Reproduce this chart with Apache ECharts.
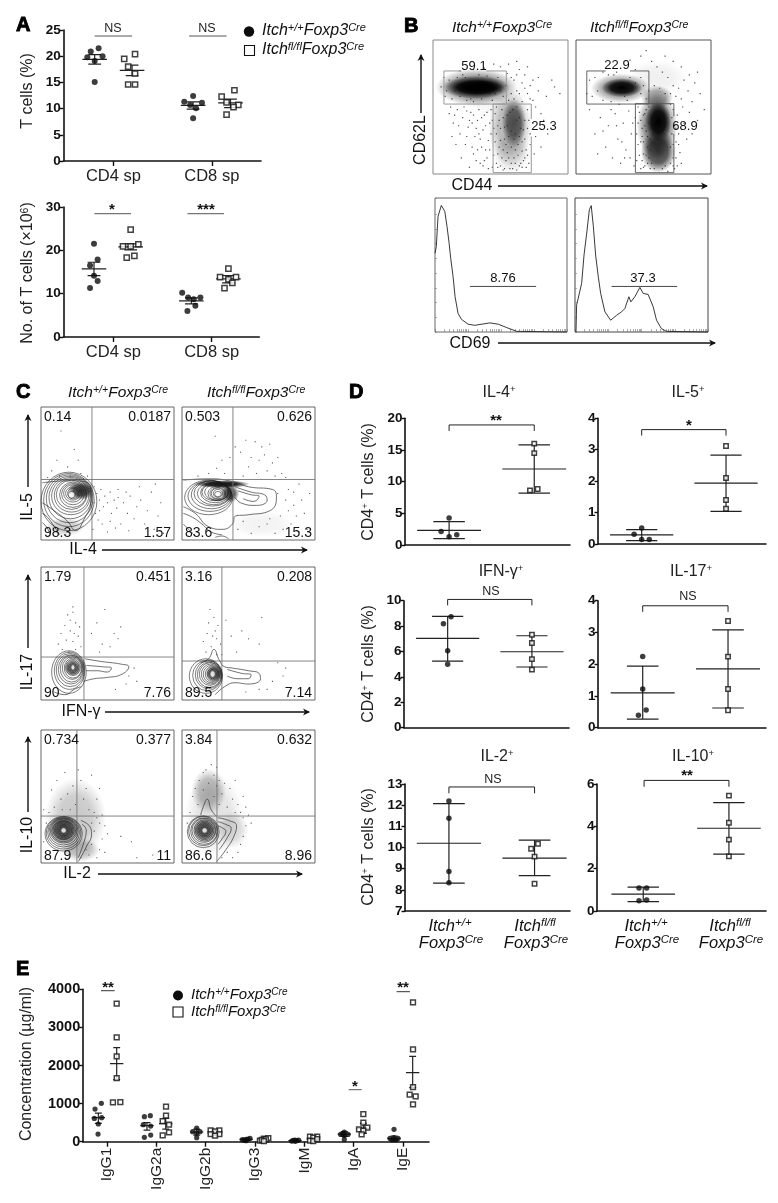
<!DOCTYPE html>
<html><head><meta charset="utf-8">
<style>html,body{margin:0;padding:0;background:#fff}#c{width:778px;height:1203px}</style>
<script src="https://cdn.jsdelivr.net/npm/echarts@6/dist/echarts.min.js"></script></head>
<body><div id="c"></div>
<script>
// ---------- Panel A values: [x, value]; stats: [centre, mean, upper, lower]
const aTopWt=[[.77,20.9],[.85,21.5],[.735,19.8],[.89,20],[.81,19.1],[.81,15.1],[1.81,12.4],[1.72,11.3],[1.9,11.1],[1.78,10.7],[1.84,10.05],[1.81,8.15]];
const aTopKo=[[1.11,19.5],[1.22,20.4],[1.15,18],[1.22,16.7],[1.15,14.6],[1.22,14.6],[2.23,13.5],[2.1,12.3],[2.15,11.2],[2.27,10.7],[2.22,10.3],[2.15,8.85]];
const aTopStats=[[.81,19.4,20.3,18.5],[1.19,17.3,18.3,16.3],[1.81,10.6,11.3,9.9],[2.19,11.1,11.8,10.2]];
const aBotWt=[[.803,21.5],[.84,17.9],[.763,16.5],[.803,14.15],[.84,12.9],[.763,11.3],[1.7,10.2],[1.76,9.1],[1.885,9.1],[1.817,8.7],[1.834,7.2],[1.753,6]];
const aBotKo=[[1.176,24.8],[1.254,21.4],[1.176,20.9],[1.098,20.9],[1.136,18.3],[1.214,18.7],[2.17,15.8],[2.085,13.8],[2.247,13.8],[2.17,13.3],[2.21,12.5],[2.13,11.3]];
const aBotStats=[[.803,15.7,17.25,14.15],[1.176,20.8,21.5,20.1],[1.793,8.35,9.05,7.65],[2.17,13.4,14.15,12.5]];
const aCats=['CD4 sp','CD8 sp'];
// ---------- Panel D values
const dIl4={wt:[[1,4.26],[.906,2.15],[1.09,1.6],[1,1.3]],ko:[[2,16],[2,14.5],[1.95,8.63],[2.04,8.84]],wtS:[1,2.3,3.7,1],koS:[2,12,15.8,8.2],br:[18.95,18]};
const dIl5={wt:[[1,.51],[.91,.31],[1,.14],[1.09,.14]],ko:[[2,3.12],[2,2.1],[2,1.4],[2,1.12]],wtS:[1,.29,.46,.11],koS:[2,1.94,2.83,1.04],br:[3.64,3.45]};
const dIfn={wt:[[1.04,8.74],[.95,8.19],[1,6.06],[1,5]],ko:[[2,7.32],[2,6.67],[2,5.4],[2,4.57]],wtS:[1,7.03,8.77,5.25],koS:[2,5.98,7.24,4.78],br:[10.1,9.63]};
const dIl17={wt:[[1,2.24],[1,1.22],[1.04,.56],[.95,.39]],ko:[[2,3.36],[2,2.24],[2,1.22],[2,.55]],wtS:[1,1.1,1.94,.27],koS:[2,1.85,3.08,.62],br:[3.84,3.65]};
const dIl2={wt:[[1,12.2],[1,11.38],[1,8.87],[1,8.34]],ko:[[2.04,10.18],[1.96,9.94],[2,9.57],[2,8.29]],wtS:[1,10.2,12.07,8.32],koS:[2,9.5,10.35,8.67],br:[12.86,12.56]};
const dIl10={wt:[[.94,1.09],[1.03,1.09],[.94,.49],[1.03,.52]],ko:[[2,5.45],[2,4.17],[2,3.37],[2,2.58]],wtS:[.99,.8,1.13,.44],koS:[2,3.91,5.12,2.69],br:[6.17,5.87]};
// ---------- Panel E values
const eCats=['IgG1','IgG2a','IgG2b','IgG3','IgM','IgA','IgE'];
const eWt=[[.885,1006],[.757,857],[.743,612],[.892,630],[.824,464],[.818,201],[1.757,656],[1.878,682],[1.736,446],[1.885,411],[1.885,175],[1.757,114],[2.818,359],[2.736,262],[2.885,262],[2.818,227],[2.818,105],[3.743,52],[3.818,26],[3.899,87],[3.818,61],[3.777,44],[3.858,70],[4.743,17],[4.777,35],[4.811,9],[4.845,26],[4.885,44],[4.811,44],[5.81,254],[5.736,192],[5.885,192],[5.81,166],[5.777,201],[5.81,61],[6.818,324],[6.736,87],[6.818,105],[6.899,87],[6.777,44],[6.858,44]];
const eKo=[[1.196,3622],[1.196,2739],[1.196,2240],[1.196,1671],[1.12,1032],[1.27,1041],[2.196,919],[2.196,682],[2.128,542],[2.257,446],[2.257,245],[2.128,166],[3.1,297],[3.277,297],[3.189,271],[3.1,201],[3.277,201],[3.189,157],[4.1,26],[4.18,79],[4.27,96],[4.14,44],[4.22,61],[4.18,17],[5.115,131],[5.26,131],[5.18,105],[5.115,26],[5.18,17],[5.26,70],[6.196,726],[6.196,499],[6.108,324],[6.277,367],[6.196,289],[6.162,192],[7.203,3657],[7.203,2424],[7.203,1435],[7.135,1234],[7.257,1190],[7.203,980]];
const eStats=[[.824,630,752,481],[1.196,2048,2467,1627],[1.81,420,499,306],[2.19,472,612,332],[2.818,254,332,175],[3.189,245,306,175],[3.82,60,75,45],[4.18,60,78,42],[4.81,30,38,20],[5.18,75,105,45],[5.81,201,262,140],[6.196,350,481,219],[6.818,87,149,26],[7.196,1811,2240,1417]];
// ---------- Panel B histograms (percent of plot)
const hist1=[[0,58.8],[1,63.8],[2.3,86.3],[4.8,94.5],[7.4,90],[9.1,78.8],[10.7,66.3],[11.9,55],[13,56.3],[13.7,41.3],[15.2,26.3],[17.5,13.8],[20,9.5],[25.1,5.8],[30.1,5],[41.6,6.8],[48,5.8],[54.3,3.3],[61.9,.5],[100,0]];
const hist2=[[.75,0],[1.2,20],[2.5,19.3],[5,36.3],[6.8,57.5],[8.8,73.8],[10.8,91.3],[12.2,94.3],[13.8,78.8],[15.5,57.5],[17.5,41.3],[19.3,28.8],[22.5,15],[26.8,8.8],[31.3,12.5],[35,15],[37.5,17.5],[40.5,26.3],[42,22.5],[45,26.3],[48.8,33.3],[51.3,28.8],[55,28],[58.8,18.8],[61.3,8.8],[65,2.5],[68.8,.5],[100,0]];
const histXTicks=[0,7,11,14,16.5,18.5,20,21.5,23,24,25,32,36,39,41.5,43.5,45,46.5,48,49,50,57,61,64,66.5,68.5,70,71.5,73,74,75,82,86,89,91.5,93.5,95,96.5,98,99,100];
const histYTicks=[0,11,22,33,44,55,66,77,88,100];
// ---------- Panel B dot plots: density clouds [x,y,w,h,alpha], events, gates
const bClouds1=[[45,60,50,36,.05],[58,16,28,30,.14],[57,35,32,56,.3],[60,38,18,36,.6],[32,64.7,60,28,.5],[32,64.7,50,17,1],[34,64.7,38,11,1]];
const bClouds2=[[60,72,44,26,.06],[60,57,24,18,.4],[60,36,30,50,.6],[61,17,26,32,.75],[61,39,19,30,1],[33,64,44,22,.45],[34,64.4,30,14,1]];
const bDots1=[[12,45],[15,38],[18,48],[20,30],[22,42],[24,22],[26,35],[28,46],[30,15],[31,28],[33,40],[35,8],[36,20],[37,33],[38,44],[40,12],[41,25],[42,38],[43,48],[44,5],[17,22],[21,12],[27,5],[34,30],[39,18],[14,28],[25,47],[29,38],[32,10],[37,6],[46,45],[47,30],[48,15],[49,40],[50,25],[50,6],[51,48],[52,18],[53,35],[54,10],[55,44],[56,28],[57,4],[58,20],[59,48],[60,12],[61,30],[62,3],[63,22],[64,42],[65,8],[66,17],[67,33],[68,26],[69,5],[70,14],[71,40],[72,30],[47,8],[52,3],[55,16],[61,18],[64,28],[58,8],[66,5],[48,36],[53,26],[68,12],[55,75],[60,70],[62,62],[64,78],[66,68],[68,74],[70,60],[72,66],[58,60],[74,55],[76,50],[78,62],[80,45],[82,40],[84,58],[90,65],[94,60],[88,70],[74,70],[78,72],[70,80],[62,84],[56,82],[50,80],[45,82],[38,79],[30,78],[20,77],[74,38],[76,28],[80,20],[75,15],[85,30],[10,62],[12,70],[9,58],[14,56],[18,72],[22,74],[25,55],[30,54],[36,56],[40,73],[44,55],[48,72],[52,58],[54,66],[56,55],[6,65],[8,72],
 [13,50],[16,44],[19,36],[23,50],[25,28],[27,40],[29,20],[30,44],[32,34],[33,18],[34,48],[35,26],[36,42],[38,10],[39,36],[40,46],[41,4],[42,18],[43,30],[44,40],[45,14],[45,34],[46,24],[47,50],[48,5],[49,20],[50,34],[51,12],[52,42],[53,4],[54,22],[55,36],[56,12],[57,46],[58,32],[59,4],[60,26],[61,8],[62,40],[63,14],[64,6],[65,34],[66,24],[67,10],[68,40],[69,18],[70,34],[71,8],[72,22],[62,50],[66,54],[70,48],[60,56],[64,60],[68,64],[72,56],[58,72],[62,74],[50,62],[46,60],[16,62],[20,58],[24,72],[28,56],[34,74],[42,60]];
const bDots2=[[10,48],[14,30],[18,42],[22,20],[24,36],[27,12],[29,45],[31,26],[33,8],[35,38],[37,18],[39,47],[41,30],[43,6],[44,42],[16,15],[26,48],[34,24],[40,12],[46,22],[20,55],[26,54],[32,52],[38,55],[8,60],[10,70],[14,72],[20,76],[28,74],[40,72],[44,68],[48,60],[50,66],[52,56],[46,50],[48,40],[49,28],[50,15],[50,5],[51,45],[52,32],[53,20],[53,8],[54,50],[55,26],[72,48],[73,36],[74,24],[72,12],[73,4],[75,44],[76,30],[77,16],[78,8],[80,38],[82,26],[79,50],[84,46],[86,30],[70,60],[72,66],[74,58],[76,64],[78,56],[80,70],[83,62],[86,54],[88,68],[90,76],[68,72],[64,76],[60,80],[56,84],[48,88],[52,92],[40,85],[44,78],[72,84],[78,80],[66,88],[84,74],[92,60],[95,48],[90,40],
 [45,10],[45,30],[46,38],[47,14],[47,46],[48,4],[48,24],[49,34],[49,10],[50,44],[50,24],[51,36],[51,6],[52,14],[52,48],[53,28],[54,12],[54,38],[55,4],[55,18],[56,44],[56,8],[57,30],[58,4],[58,48],[64,4],[66,6],[68,2],[70,8],[70,20],[71,30],[71,42],[72,6],[72,22],[74,12],[74,34],[75,6],[76,22],[70,52],[66,60],[62,64],[58,66],[54,62],[48,72],[42,62],[36,58],[30,76],[24,74],[16,62],[12,58],[36,12],[30,36],[20,32],[42,38]];
const bGates1=[[21,76.9],[8.1,76.9],[8.1,52.2],[54.3,52.2],[54.3,76.9],[39.5,76.9],[NaN,NaN],[44.5,52.2],[44.5,1],[72.8,1],[72.8,28],[NaN,NaN],[72.8,41],[72.8,52.2],[44.5,52.2]];
const bGates2=[[22,76.9],[8,76.9],[8,52.2],[54,52.2],[54,76.9],[40,76.9],[NaN,NaN],[44,52.5],[44,1],[72.5,1],[72.5,30],[NaN,NaN],[72.5,43],[72.5,52.5],[44,52.5]];
const histGate1=[[26.6,34],[76.6,34]];
const histGate2=[[27.5,34],[76.8,34]];
// ---------- Panel C: quadrants [x,y], clouds, events, contour rings [x,y,w,h], contour paths
const c1Quad=[38.3,45.5],c2Quad=[38.3,45.5],c3Quad=[32.3,32.3],c4Quad=[30,29.3],c5Quad=[27,35.3],c6Quad=[26.3,35.3];
const c1Clouds=[[18,10,30,14,.2],[30,37,20,14,.8]];
const c2Clouds=[[60,12,50,20,.05],[30,42,42,6,.95],[36,35,14,14,.7]];
const c3Clouds=[[24,24,13,13,.55]];
const c4Clouds=[[24,20,13,13,.65]];
const c5Clouds=[[26,34,46,60,.22],[30,10,28,18,.25],[17,25,22,22,.6]];
const c6Clouds=[[24,36,44,62,.12],[20,54,26,34,.28],[38,25,24,28,.14],[17,25,18,18,.6]];
const c1Dots=[[40,40],[42,35],[44,30],[45,38],[47,25],[48,33],[50,28],[52,36],[53,20],[55,30],[57,24],[58,38],[60,12],[62,28],[65,20],[67,33],[70,16],[72,25],[75,30],[78,12],[80,22],[83,36],[85,8],[88,18],[90,28],[92,5],[46,12],[50,6],[56,9],[66,7],[41,20],[43,15],[15,82],[25,68],[12,60],[20,55],[28,60],[30,50],[14,48],[8,52],[22,48],[5,47],[35,48],[32,46],[39,8],[40,28],[44,22],[52,14],[58,32],[64,36],[74,40],[86,42]];
const c2Dots=[[55,74],[60,70],[52,62],[58,60],[62,64],[66,72],[68,58],[72,62],[75,50],[64,52],[56,50],[50,55],[46,48],[70,48],[78,47],[40,70],[36,62],[30,60],[26,54],[20,50],[32,50],[12,48],[44,66],[48,75],[25,78],[72,35],[78,30],[80,38],[84,36],[88,42],[90,30],[92,20],[86,18],[82,12],[76,8],[70,5],[64,12],[96,35],[94,8],[88,6],[74,18],[80,22],[58,10],[52,5],[46,14],[42,8],[66,16],[84,26]];
const c3Dots=[[20,64],[22,60],[24,66],[26,58],[18,56],[22,52],[25,50],[15,50],[19,45],[24,44],[28,48],[30,40],[16,38],[21,36],[26,38],[13,42],[29,55],[48,68],[42,58],[55,50],[58,46],[46,42],[52,40],[44,36],[60,55],[38,50],[66,18],[70,24],[64,12],[56,8],[72,14],[24,70]];
const c4Dots=[[21,68],[24,62],[20,58],[27,56],[19,50],[23,48],[26,46],[29,42],[16,44],[22,40],[18,36],[25,52],[33,60],[37,48],[45,52],[50,46],[58,42],[41,36],[60,62],[30,34],[64,8],[72,28],[76,18],[68,14],[58,8],[48,6],[78,24],[26,34]];
const c5Dots=[[8,55],[12,62],[15,48],[18,68],[20,52],[24,58],[26,44],[10,42],[6,38],[30,62],[34,56],[38,66],[42,48],[36,40],[40,38],[32,48],[28,70],[22,40],[16,40],[44,56],[46,36],[48,28],[46,18],[44,10],[48,8],[42,4],[38,14],[36,6],[40,24],[44,30],[50,22],[2,40],[4,30],[2,16],[30,4],[34,10],[42,34],[38,30],[60,20],[68,16],[72,4],[84,6]];
const c6Dots=[[8,50],[10,56],[13,62],[16,68],[18,70],[20,60],[24,66],[26,58],[28,62],[12,44],[6,38],[4,30],[24,50],[30,52],[32,60],[36,56],[38,48],[40,62],[42,44],[46,50],[44,38],[34,42],[46,34],[48,28],[46,20],[44,14],[42,8],[38,4],[30,4],[34,8],[50,36],[52,30],[26,72],[22,74],[48,42],[16,55],[28,44],[40,38]];
const c1Rings=[[21,29,42,44],[21,30,38,40],[21.5,31,35,36],[22,32,32,32],[22.5,33,29,28],[23,33.5,26,25],[23,34,23,22],[24,34,20,19],[24,34.5,17,16],[24,35,14,13],[24,35,11,10],[24,35,8,8],[23,34,5,5]];
const c2Rings=[[20,32,36,26],[21,33,33,23],[22,34,30,21],[23,35,28,19],[24,35,25,17],[25,35.5,22,15],[25,36,20,13],[26,36,18,12],[27,35,15,11],[27,35,12,9],[27,35,10,8],[27,35,7,6],[27,34.5,5,4]];
const c3Rings=[[21,21,26,32],[21.5,22,23,28],[22,22.5,21,25],[22.5,23,19,22],[23,23.5,17,20],[23.5,24,15,17],[24,24,13,15],[24,24.5,11,12],[24,24.5,9,10],[24,24.5,7,8],[24,24.5,5,6],[24,24.5,3,4]];
const c4Rings=[[18,18,25,26],[19,18.5,22,23],[20,19,20,21],[20.5,19,18,19],[21,19.5,16,17],[21.5,19.5,14,15],[22,19.5,12,13],[22.5,19.5,10,11],[23,19.5,8,9],[23,19.5,6,7],[23,19.5,4,5]];
const c5Rings=[[17,22,28,26],[17,22.5,26,24],[17,23,24,22],[17,23.5,22,20],[17,24,20,18],[17,24,18,16],[17,24.5,16,14],[17,24.5,14,13],[17,24.5,12,11],[17,24.5,10,9],[17,24.5,8,8],[17,24.5,6,6],[17,24.5,4,4]];
const c6Rings=[[16,23.5,24,24],[16,24,22,22],[16.5,24,20,20],[16.5,24.5,18,18],[17,24.5,16,16],[17,24.5,14,14],[17,24.5,12,12],[17,24.5,10,10],[17,24.5,8,8],[17,24.5,6,6],[17,24.5,4,4]];
const c1Paths=[[[1,43],[20,44.5],[37,41],[37.5,30],[32,15],[26,7],[20,14],[10,22],[1,28]],[[1,20],[5,17],[10,10],[14,4]],[[1,13],[4,10],[7,4]]];
const c2Paths=[[[1,45],[20,46],[38,44],[50,40],[68,38],[71,32],[66,22],[50,19],[40,18],[38,12],[30,8],[20,10],[10,20],[1,25]],[[40,40],[52,36],[62,34],[64,30],[56,26],[44,28],[40,32]],[[42,37],[52,34],[58,33],[54,29],[46,31]],[[1,20],[8,17],[15,12],[22,6],[30,4]],[[1,12],[5,8],[10,3]],[[25,2],[30,3],[35,1]]];
const c3Paths=[[[33,31],[45,29],[60,27],[66,25],[60,19],[50,17],[40,16],[32,14]],[[34,26],[46,25],[53,24],[50,21],[42,22],[34,22]],[[10,6],[18,4],[25,8],[30,10]]];
const c4Paths=[[[14,28],[20,31],[24,38],[28,30],[32,25],[38,24],[50,22],[58,20],[59,16],[50,12],[40,13],[32,10],[25,4]],[[34,23],[45,20],[52,19],[50,16],[42,16],[34,18]]];
const c5Paths=[[[30,32],[37,27],[38,22],[34,12],[28,1]],[[31,29],[34,25],[33,18],[28,4]]];
const c6Paths=[[[14,36],[17,45],[19,48],[22,40],[26,35]],[[27,34],[35,32],[41,28],[39,20],[33,10],[26,1]],[[27,31],[33,29],[37,26],[34,19],[28,10]],[[27,28],[31,26],[33,24],[30,18],[27,14]]];
const c1Labels=['0.14','0.0187','98.3','1.57'],c2Labels=['0.503','0.626','83.6','15.3'],c3Labels=['1.79','0.451','90','7.76'],c4Labels=['3.16','0.208','89.5','7.14'],c5Labels=['0.734','0.377','87.9','11'],c6Labels=['3.84','0.632','86.6','8.96'];

// ---------- builders
const FF='"Liberation Sans",Arial,sans-serif';
const grids=[],xAxes=[],yAxes=[],series=[],G=[];
function addGrid(L,T,R,B,x,y,g){const i=grids.length;
 grids.push(Object.assign({left:L,top:T,width:R-L,height:B-T,containLabel:false},g||{}));
 xAxes.push(Object.assign({gridIndex:i,type:'value',splitLine:{show:false}},x));
 yAxes.push(Object.assign({gridIndex:i,type:'value',splitLine:{show:false}},y));return i;}
const AL={show:true,onZero:false,lineStyle:{color:'#111',width:1.6}};
function numY(min,max,step,fs){return {min,max,interval:step,axisLine:AL,axisTick:{show:true,length:3.5,lineStyle:{color:'#111',width:1.4}},axisLabel:{margin:2.5,fontFamily:FF,fontWeight:'bold',fontSize:fs,color:'#111',formatter:v=>String(v)}};}
function catX(min,max,cats,fs,rot){const vals=cats.map((c,i)=>i+1);return {min,max,axisLine:AL,axisTick:{show:true,length:5,customValues:vals,lineStyle:{color:'#111',width:1.4}},axisLabel:{customValues:vals,rotate:rot||0,margin:rot?6:7,fontFamily:FF,fontSize:fs,color:'#222',formatter:v=>cats[Math.round(v)-1]}};}
function plainX(min,max){return {min,max,axisLine:AL,axisTick:{show:false},axisLabel:{show:false}};}
function line(i,data,color,w,smooth){series.push({type:'line',xAxisIndex:i,yAxisIndex:i,data,showSymbol:false,symbol:'none',smooth:!!smooth,clip:false,silent:true,connectNulls:false,lineStyle:{color,width:w},z:3});}
function pts(i,data,kind,size){series.push({type:'scatter',xAxisIndex:i,yAxisIndex:i,data,symbol:kind==='c'?'circle':'rect',symbolSize:size,clip:false,silent:true,z:4,
 itemStyle:kind==='c'?{color:'#0c0c0c'}:{color:'#fff',borderColor:'#111',borderWidth:1.5}});}
function stats(i,list,mw,cw,w){const d=[];list.forEach(s=>{const [c,m,h,l]=s;
 d.push([c-mw,m],[c+mw,m],[NaN,NaN],[c-cw,h],[c+cw,h],[NaN,NaN],[c-cw,l],[c+cw,l],[NaN,NaN],[c,h],[c,l],[NaN,NaN]);});line(i,d,'#222',w||1.2);}
function clouds(i,list,pxW,pxH,z){series.push({type:'scatter',xAxisIndex:i,yAxisIndex:i,silent:true,z:z||1,
 data:list.map(c=>({value:[c[0],c[1]],symbolSize:[c[2]*pxW,c[3]*pxH],itemStyle:{opacity:1,color:{type:'radial',x:.5,y:.5,r:.5,colorStops:[{offset:0,color:`rgba(0,0,0,${c[4]})`},{offset:.55,color:`rgba(0,0,0,${c[4]*.85})`},{offset:1,color:'rgba(0,0,0,0)'}]}}}))});}
function dots(i,data,size,col){series.push({type:'scatter',xAxisIndex:i,yAxisIndex:i,data,symbol:'rect',symbolSize:size||1.2,silent:true,z:2,itemStyle:{color:col||'#222'}});}
function rings(i,list){series.push({type:'scatter',xAxisIndex:i,yAxisIndex:i,silent:true,z:3,
 data:list.map((r,k)=>({value:[r[0],r[1]],symbolSize:[r[2]*1.33,r[3]*1.33],itemStyle:{color:k===list.length-1?'#fff':'rgba(0,0,0,0)',borderColor:'#1a1a1a',borderWidth:.7}}))});}
// graphic helpers
function T(x,y,text,o){o=o||{};const el={type:'text',z:50,x,y,rotation:o.rot||0,silent:true,style:{text,fill:o.c||'#111',align:o.a||'center',verticalAlign:'middle',
 font:`${o.it?'italic ':''}${o.w||'normal'} ${o.s||15}px ${o.ff||FF}`,stroke:o.stroke||undefined,lineWidth:o.lw||0}};if(o.rich){el.style.rich=o.rich;}G.push(el);}
function genoRich(s,s2){return {a:{font:`italic normal ${s}px ${FF}`,fill:'#111',lineHeight:s+1},b:{font:`italic normal ${s2}px ${FF}`,fill:'#111',verticalAlign:'top',lineHeight:s+1}};}
const wtT='{a|Itch}{b|+/+}{a|Foxp3}{b|Cre}',koT='{a|Itch}{b|fl/fl}{a|Foxp3}{b|Cre}';
function supRich(s,s2){return {a:{font:`normal ${s}px ${FF}`,fill:'#222',lineHeight:s+1},b:{font:`normal ${s2}px ${FF}`,fill:'#222',verticalAlign:'top',lineHeight:s+1}};}
function arrow(x1,y1,x2,y2){G.push({type:'line',z:50,silent:true,shape:{x1,y1,x2,y2},style:{stroke:'#111',lineWidth:1.4}});
 const dx=Math.sign(x2-x1),dy=Math.sign(y2-y1);const p=dx?[[x2+dx*1,y2],[x2-dx*6,y2-3.5],[x2-dx*4,y2],[x2-dx*6,y2+3.5]]:[[x1,y2+dy*1],[x1-3.5,y2-dy*6],[x1,y2-dy*4],[x1+3.5,y2-dy*6]];
 G.push({type:'polygon',z:50,silent:true,shape:{points:p},style:{fill:'#111'}});}
function letter(x,y,t){T(x,y,t,{s:20,w:'bold',a:'left',stroke:'#000',lw:.9,c:'#000'});}
function bar(i,x1,x2,y,c,w){line(i,[[x1,y],[x2,y]],c||'#555',w||1);}

// ---------- Panel A
const a1=addGrid(63.3,30,261,161,catX(.491,2.5,aCats,16.5),numY(0,25,5,13.5));
stats(a1,aTopStats,.125,.065,1.2);pts(a1,aTopWt,'c',6);pts(a1,aTopKo,'s',5.2);
bar(a1,.81,1.19,23.85);bar(a1,1.77,2.15,23.85);
const a2=addGrid(63.3,207,259.3,337,catX(.491,2.484,aCats,16.5),numY(0,30,10,13.5));
stats(a2,aBotStats,.125,.065,1.2);pts(a2,aBotWt,'c',6);pts(a2,aBotKo,'s',5.2);
bar(a2,.807,1.18,28.45);bar(a2,1.753,2.125,28.45);
letter(16,25,'A');T(113,29,'NS',{s:12.5,c:'#222'});T(207,29,'NS',{s:12.5,c:'#222'});
T(112,210,'*',{s:15,w:'bold'});T(206,210,'***',{s:15,w:'bold'});
T(28,91,'T cells (%)',{s:16,rot:Math.PI/2,c:'#222'});
T(28,273,'{a|No. of T cells (×10}{b|6}{a|)}',{rot:Math.PI/2,rich:supRich(16,10.5)});
G.push({type:'circle',z:50,silent:true,shape:{cx:249,cy:31.5,r:5.2},style:{fill:'#0c0c0c'}});
G.push({type:'rect',z:50,silent:true,shape:{x:244.5,y:45.5,width:10,height:10},style:{fill:'#fff',stroke:'#111',lineWidth:1.1}});
T(262,31,wtT,{a:'left',rich:genoRich(16,11)});T(262,50,koT,{a:'left',rich:genoRich(16,11)});

// ---------- Panel B
function flowAxes(){return {min:0,max:100,show:false};}
const b1=addGrid(433,40,568,174,flowAxes(),flowAxes(),{show:true,borderColor:'#888',borderWidth:1});
clouds(b1,bClouds1,1.35,1.34);dots(b1,bDots1,1.2);line(b1,bGates1,'#999',1);
const b2=addGrid(576,40,711,174,flowAxes(),flowAxes(),{show:true,borderColor:'#555',borderWidth:1});
clouds(b2,bClouds2,1.35,1.34);dots(b2,bDots2,1.2);line(b2,bGates2,'#555',.9);
function histAxis(vals,len){return {min:0,max:100,axisLine:{show:false},axisLabel:{show:false},axisTick:{show:true,inside:true,length:len,customValues:vals,lineStyle:{color:'#777',width:.6}}};}
const b3=addGrid(435,198,567,332,histAxis(histXTicks,3),histAxis(histYTicks,2),{show:true,borderColor:'#666',borderWidth:1});
line(b3,hist1,'#222',.9);line(b3,histGate1,'#333',.9);
const b4=addGrid(575,198,708,332,histAxis(histXTicks,3),histAxis(histYTicks,2),{show:true,borderColor:'#444',borderWidth:1});
line(b4,hist2,'#222',.9);line(b4,histGate2,'#333',.9);
letter(404,26,'B');
T(452,28,wtT,{a:'left',rich:genoRich(15.5,10.5)});T(590,28,koT,{a:'left',rich:genoRich(15.5,10.5)});
T(474,66,'59.1',{s:13});T(544,126,'25.3',{s:13});T(617,65,'22.9',{s:13});T(685,126,'68.9',{s:13});
T(503,278,'8.76',{s:13});T(643,278,'37.3',{s:13});
T(421,140,'CD62L',{s:16,rot:Math.PI/2});arrow(421,113,421,55);
T(472,186,'CD44',{s:16});arrow(498,186,707,186);
T(470,344,'CD69',{s:16});arrow(498,343,715,343);

// ---------- Panel C
function flowPlot(L,T0,q,cl,dt,rg,pa,lb){const i=addGrid(L,T0,L+133,T0+133,flowAxes(),flowAxes(),{show:true,borderColor:'#666',borderWidth:1});
 clouds(i,cl,1.33,1.33);dots(i,dt,1.1,'#333');rings(i,rg);
 pa.forEach(p=>line(i,p,'#333',.7,true));
 line(i,[[q[0],0],[q[0],100]],'#777',.9);line(i,[[0,q[1]],[100,q[1]]],'#777',.9);
 T(L+3,T0+10,lb[0],{s:14,a:'left'});T(L+130,T0+10,lb[1],{s:14,a:'right'});
 T(L+3,T0+126,lb[2],{s:14,a:'left'});T(L+130,T0+126,lb[3],{s:14,a:'right'});}
flowPlot(41,407,c1Quad,c1Clouds,c1Dots,c1Rings,c1Paths,c1Labels);
flowPlot(182,407,c2Quad,c2Clouds,c2Dots,c2Rings,c2Paths,c2Labels);
flowPlot(41,567,c3Quad,c3Clouds,c3Dots,c3Rings,c3Paths,c3Labels);
flowPlot(182,567,c4Quad,c4Clouds,c4Dots,c4Rings,c4Paths,c4Labels);
flowPlot(41,730,c5Quad,c5Clouds,c5Dots,c5Rings,c5Paths,c5Labels);
flowPlot(182,730,c6Quad,c6Clouds,c6Dots,c6Rings,c6Paths,c6Labels);
letter(16,392,'C');
T(68,393,wtT,{a:'left',rich:genoRich(15.5,10.5)});T(207,393,koT,{a:'left',rich:genoRich(15.5,10.5)});
T(28,507,'IL-5',{s:16,rot:Math.PI/2});arrow(28,487,28,415);
T(28,672,'IL-17',{s:16,rot:Math.PI/2});arrow(28,648,28,575);
T(28,835,'IL-10',{s:16,rot:Math.PI/2});arrow(28,812,28,737);
T(83,550,'IL-4',{s:16});arrow(102,550,307,550);
T(81,712,'IFN-γ',{s:16});arrow(105,712,309,712);
T(77,874,'IL-2',{s:16});arrow(98,874,302,874);

// ---------- Panel D
function dPanel(L,T0,R,B,xmin,xmax,ymin,ymax,step,d){const i=addGrid(L,T0,R,B,plainX(xmin,xmax),numY(ymin,ymax,step,13.5));
 stats(i,[d.wtS,d.koS],.375,.185,1.2);pts(i,d.wt,'c',5.5);pts(i,d.ko,'s',4.4);
 line(i,[[1,d.br[1]],[1,d.br[0]],[2,d.br[0]],[2,d.br[1]]],'#222',1);return i;}
dPanel(405,418.3,570,545,.482,2.42,0,20,5,dIl4);
dPanel(598,418.3,766,544,.482,2.474,0,4,1,dIl5);
dPanel(404,600.7,569,727.7,.482,2.44,0,10,2,dIfn);
dPanel(598,600.7,766,727.7,.476,2.445,0,4,1,dIl17);
dPanel(405,784,570,911,.487,2.414,7,13,1,dIl2);
dPanel(597,784,766,911,.445,2.437,0,6,2,dIl10);
letter(349,392,'D');
const hR=supRich(16,9.5);
T(499,393,'{a|IL-4}{b|+}',{rich:hR});T(688,393,'{a|IL-5}{b|+}',{rich:hR});T(501,572,'{a|IFN-γ}{b|+}',{rich:hR});
T(691,572,'{a|IL-17}{b|+}',{rich:hR});T(497,757,'{a|IL-2}{b|+}',{rich:hR});T(693,757,'{a|IL-10}{b|+}',{rich:hR});
const yR=supRich(16,9.5),yT='{a|CD4}{b|+}{a| T cells (%)}';
T(369,482,yT,{rot:Math.PI/2,rich:yR});T(369,664,yT,{rot:Math.PI/2,rich:yR});T(369,847,yT,{rot:Math.PI/2,rich:yR});
T(496,421,'**',{s:15,w:'bold'});T(689,426,'*',{s:15,w:'bold'});
T(491,592,'NS',{s:12.5,c:'#222'});T(688,597,'NS',{s:12.5,c:'#222'});T(493,780,'NS',{s:12.5,c:'#222'});T(687,776,'**',{s:15,w:'bold'});
const bR=genoRich(16.5,11.5);
[[450,'{a|Itch}{b|+/+}'],[535,'{a|Itch}{b|fl/fl}'],[646,'{a|Itch}{b|+/+}'],[730,'{a|Itch}{b|fl/fl}']].forEach(p=>{T(p[0],926,p[1],{rich:bR});T(p[0]+1,943,'{a|Foxp3}{b|Cre}',{rich:bR});});

// ---------- Panel E
const e=addGrid(82.7,989.3,429,1141.7,catX(.507,7.527,eCats,15.5,90),numY(0,4000,1000,14.5));
stats(e,eStats,.135,.07,1.2);pts(e,eWt,'c',5.2);pts(e,eKo,'s',4.8);
bar(e,.878,1.155,3963,'#333',1);bar(e,5.899,6.162,1365,'#555',1);bar(e,6.87,7.14,3937,'#333',1);
letter(16,969,'E');
T(108,988,'**',{s:15,w:'bold'});T(355,1087,'*',{s:15,w:'bold'});T(403,988,'**',{s:15,w:'bold'});
T(27,1064,'Concentration (µg/ml)',{s:16,rot:Math.PI/2,c:'#222'});
G.push({type:'circle',z:50,silent:true,shape:{cx:178,cy:995.5,r:5},style:{fill:'#0c0c0c'}});
G.push({type:'rect',z:50,silent:true,shape:{x:173,y:1007,width:10,height:10},style:{fill:'#fff',stroke:'#111',lineWidth:1.1}});
T(191,995,wtT,{a:'left',rich:genoRich(15,10)});T(191,1012,koT,{a:'left',rich:genoRich(15,10)});

const chart=echarts.init(document.getElementById('c'),null,{renderer:'canvas',width:778,height:1203});
chart.setOption({animation:false,backgroundColor:'#fff',tooltip:{show:false},grid:grids,xAxis:xAxes,yAxis:yAxes,series,graphic:{elements:G}});
</script>
</body></html>
